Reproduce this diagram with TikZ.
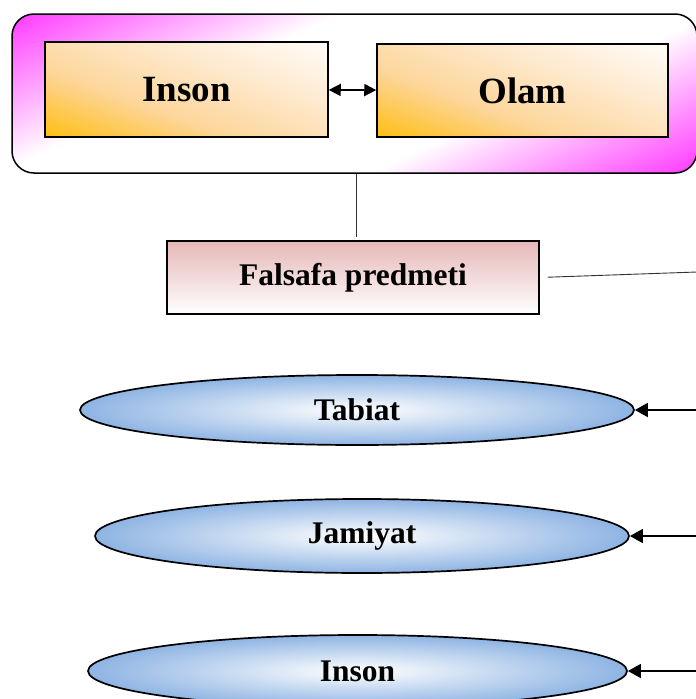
\documentclass[tikz,border=0pt]{standalone}
\usepackage{fontspec}
\setmainfont{Liberation Serif}
\usetikzlibrary{arrows.meta,shapes.geometric}

\definecolor{framepink}{RGB}{255,40,255}
\definecolor{boxgold}{RGB}{255,190,20}
\definecolor{boxtan}{RGB}{253,214,155}
\definecolor{boxlight}{RGB}{254,234,208}
\definecolor{rosetop}{RGB}{230,183,183}
\definecolor{skyblue}{RGB}{142,180,227}

\pgfdeclarehorizontalshading{frameshade}{100bp}{color(0bp)=(framepink); color(15bp)=(framepink); color(38bp)=(white); color(62bp)=(white); color(85bp)=(framepink); color(100bp)=(framepink)}
\pgfdeclarehorizontalshading{boxshade}{100bp}{color(0bp)=(boxgold); color(18bp)=(boxgold); color(40bp)=(boxtan); color(62bp)=(boxlight); color(85bp)=(white); color(100bp)=(white)}

\tikzset{
  framebox/.style={draw, line width=1.5pt, rounded corners=22pt, shading=frameshade, shading angle=-65, inner sep=0pt},
  sidebox/.style={draw, line width=1.5pt, shading=boxshade, shading angle=70, inner sep=0pt, font=\fontsize{37}{40}\selectfont\bfseries},
  mainbox/.style={draw, line width=1.5pt, top color=rosetop, bottom color=white, inner sep=0pt, font=\fontsize{31.5}{34}\selectfont\bfseries},
  topic/.style={ellipse, draw, line width=1.7pt, inner color=white, outer color=skyblue, inner sep=0pt, font=\fontsize{31.5}{34}\selectfont\bfseries},
  link/.style={draw=black!80, line width=0.9pt},
  pointer/.style={line width=1.5pt, -{Triangle[length=13pt,width=14pt]}},
}

\begin{document}
\begin{tikzpicture}[x=1pt, y=-1pt]
\useasboundingbox (0,0) rectangle (696,699);

\node[framebox, minimum width=685pt, minimum height=159pt] (frame) at (354.5, 93.5) {};
\node[sidebox, minimum width=283pt, minimum height=95pt] (man) at (186.5, 89.5) {Inson};
\node[sidebox, minimum width=291pt, minimum height=93pt] (world) at (522.5, 90.5) {Olam};

\node[mainbox, minimum width=372pt, minimum height=73pt] (subject) at (353, 277.5) {Falsafa predmeti};

\node[topic, minimum width=554pt, minimum height=70pt] (nature) at (357, 410) {Tabiat};
\node[topic, minimum width=534pt, minimum height=74pt] (society) at (362, 536) {Jamiyat};
\node[topic, minimum width=539pt, minimum height=72pt] (person) at (357.5, 671) {Inson};

\coordinate (s0) at (697, 272);
\coordinate (s1) at (697, 410);
\coordinate (s2) at (697, 536);
\coordinate (s3) at (697, 671);

\draw[line width=1.8pt, {Triangle[length=12pt,width=12pt]}-{Triangle[length=12pt,width=12pt]}] (man) -- (world);
\draw[link, shorten >=3pt] (frame.south -| 356,0) -- (subject.north -| 356,0);
\draw[link, shorten <=8pt] (subject.east) -- (s0);
\draw[link] (s0) -- (s3);

\draw[pointer] (s1) -- (nature.east);
\draw[pointer] (s2) -- (society.east);
\draw[pointer] (s3) -- (person.east);
\end{tikzpicture}
\end{document}
